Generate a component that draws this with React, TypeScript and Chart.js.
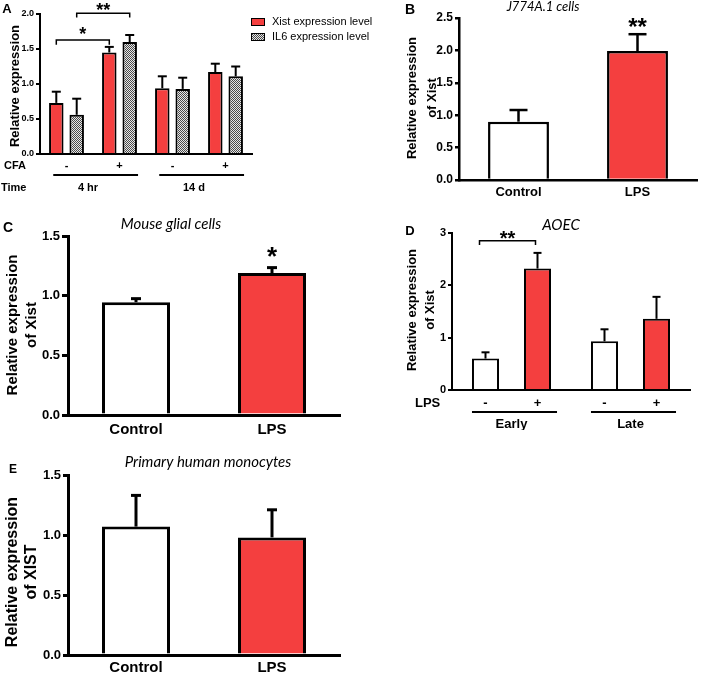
import React, { useEffect, useRef } from 'react';
import { Chart, registerables } from 'chart.js';
Chart.register(...registerables);

// ---------- DATA ----------
// Panel A
const aCFA = ['-', '+', '-', '+'];
const aTime = ['4 hr', '14 d'];
const aSeriesNames = ['Xist expression level', 'IL6 expression level'];
const aXist = [0.73, 1.45, 0.94, 1.17];
const aXistErr = [0.16, 0.08, 0.17, 0.12];
const aIL6 = [0.56, 1.6, 0.93, 1.11];
const aIL6Err = [0.23, 0.1, 0.16, 0.14];
// Panel B
const bCategories = ['Control', 'LPS'];
const bValues = [0.9, 1.99];
const bErr = [0.18, 0.26];
// Panel C
const cCategories = ['Control', 'LPS'];
const cValues = [0.945, 1.19];
const cErr = [0.03, 0.045];
// Panel D
const dGroups = ['Early', 'Late'];
const dLPS = ['-', '+'];
const dControl = [0.6, 0.93];
const dControlErr = [0.12, 0.23];
const dTreated = [2.32, 1.36];
const dTreatedErr = [0.3, 0.42];
// Panel E
const eCategories = ['Control', 'LPS'];
const eValues = [1.07, 0.98];
const eErr = [0.26, 0.23];

// ---------- STYLE ----------
const W = 708;
const H = 675;
const RED = '#F43F3F';
const FONT = 'Liberation Sans';
const TFONT = 'Lato';
Chart.defaults.font.family = FONT;

function makePattern(ctx: CanvasRenderingContext2D) {
  const c = document.createElement('canvas');
  c.width = 2;
  c.height = 2;
  const g = c.getContext('2d')!;
  g.fillStyle = '#e6e6e6';
  g.fillRect(0, 0, 2, 2);
  g.fillStyle = '#4a4a4a';
  g.fillRect(0, 0, 1, 1);
  g.fillRect(1, 1, 1, 1);
  return ctx.createPattern(c, 'repeat') as CanvasPattern;
}

function txt(ctx: CanvasRenderingContext2D, s: string, x: number, y: number, font: string, align: CanvasTextAlign = 'center') {
  ctx.save();
  ctx.fillStyle = '#000';
  ctx.font = font;
  ctx.textAlign = align;
  ctx.textBaseline = 'middle';
  ctx.fillText(s, x, y);
  ctx.restore();
}
function vtxt(ctx: CanvasRenderingContext2D, s: string, x: number, y: number, font: string) {
  ctx.save();
  ctx.translate(x, y);
  ctx.rotate(-Math.PI / 2);
  ctx.fillStyle = '#000';
  ctx.font = font;
  ctx.textAlign = 'center';
  ctx.textBaseline = 'middle';
  ctx.fillText(s, 0, 0);
  ctx.restore();
}
function star(ctx: CanvasRenderingContext2D, s: string, x: number, yCenter: number, size: number) {
  ctx.save();
  ctx.fillStyle = '#000';
  ctx.font = `bold ${size}px ${FONT}`;
  ctx.textAlign = 'center';
  ctx.textBaseline = 'alphabetic';
  ctx.fillText(s, x, yCenter + 0.6 * size);
  ctx.restore();
}
function line(ctx: CanvasRenderingContext2D, pts: number[][], lw: number) {
  ctx.save();
  ctx.strokeStyle = '#000';
  ctx.lineWidth = lw;
  ctx.beginPath();
  pts.forEach((p, i) => (i === 0 ? ctx.moveTo(p[0], p[1]) : ctx.lineTo(p[0], p[1])));
  ctx.stroke();
  ctx.restore();
}
function bracket(ctx: CanvasRenderingContext2D, x1: number, x2: number, y: number, legY: number, lw: number) {
  line(ctx, [[x1, legY], [x1, y], [x2, y], [x2, legY]], lw);
}

const errorBars = (cap: number, lw: number) => ({
  id: 'errorBars',
  afterDatasetsDraw(chart: any) {
    const ctx = chart.ctx as CanvasRenderingContext2D;
    const ys = chart.scales.y;
    chart.data.datasets.forEach((ds: any, i: number) => {
      const meta = chart.getDatasetMeta(i);
      meta.data.forEach((el: any, j: number) => {
        const v = ds.data[j];
        const e = ds.errors ? ds.errors[j] : 0;
        if (!e) return;
        const y0 = ys.getPixelForValue(v);
        const y1 = ys.getPixelForValue(v + e);
        line(ctx, [[el.x, y0], [el.x, y1]], lw);
        line(ctx, [[el.x - cap / 2, y1], [el.x + cap / 2, y1]], lw);
      });
    });
  },
});

interface Spec {
  area: { left: number; top: number; right: number; bottom: number };
  labels: string[];
  datasets: any[];
  yMax: number;
  yStep: number;
  yDecimals: number;
  yTickSize: number;
  xTickSize: number;
  xTickPad: number;
  showXTicks: boolean;
  axisWidth: number;
  tickLen: number;
  errCap: number;
  extras: (chart: any, ctx: CanvasRenderingContext2D) => void;
}

function buildConfig(p: Spec): any {
  const YW = 40;
  const XH = 40;
  return {
    type: 'bar',
    data: { labels: p.labels, datasets: p.datasets },
    options: {
      responsive: false,
      animation: false,
      events: [],
      layout: {
        autoPadding: false,
        padding: {
          left: p.area.left - YW,
          top: p.area.top,
          right: W - p.area.right,
          bottom: H - p.area.bottom - XH,
        },
      },
      plugins: { legend: { display: false }, tooltip: { enabled: false }, title: { display: false } },
      scales: {
        x: {
          type: 'category',
          offset: true,
          grid: { display: false, drawTicks: false },
          border: { display: true, color: '#000', width: p.axisWidth },
          ticks: {
            display: p.showXTicks,
            color: '#000',
            font: { family: FONT, weight: 'bold', size: p.xTickSize },
            padding: p.xTickPad,
            maxRotation: 0,
            autoSkip: false,
          },
          afterFit: (s: any) => {
            s.height = XH;
          },
        },
        y: {
          min: 0,
          max: p.yMax,
          grid: { display: true, drawOnChartArea: false, drawTicks: true, tickLength: p.tickLen, color: '#000', lineWidth: p.axisWidth },
          border: { display: true, color: '#000', width: p.axisWidth },
          ticks: {
            stepSize: p.yStep,
            color: '#000',
            padding: 2,
            font: { family: FONT, weight: 'bold', size: p.yTickSize },
            callback: (v: any) => Number(v).toFixed(p.yDecimals),
          },
          afterFit: (s: any) => {
            s.width = YW;
          },
        },
      },
    },
    plugins: [errorBars(p.errCap, p.axisWidth), { id: 'extras', afterDraw: (chart: any) => p.extras(chart, chart.ctx) }],
  };
}

// ---------- PANELS ----------
function specA(ctx: CanvasRenderingContext2D): Spec {
  const pat = makePattern(ctx);
  return {
    area: { left: 40, top: 14, right: 252, bottom: 154 },
    labels: aCFA,
    datasets: [
      { label: aSeriesNames[0], data: aXist, errors: aXistErr, backgroundColor: RED, borderColor: '#000', borderWidth: 2, borderSkipped: 'start', categoryPercentage: 0.77, barPercentage: 0.71 },
      { label: aSeriesNames[1], data: aIL6, errors: aIL6Err, backgroundColor: pat, borderColor: '#000', borderWidth: 2, borderSkipped: 'start', categoryPercentage: 0.77, barPercentage: 0.71 },
    ],
    yMax: 2,
    yStep: 0.5,
    yDecimals: 1,
    yTickSize: 9,
    xTickSize: 11,
    xTickPad: 5,
    showXTicks: true,
    axisWidth: 2,
    tickLen: 4,
    errCap: 9,
    extras: (chart, c) => {
      const xs = chart.scales.x;
      const ys = chart.scales.y;
      const cw = xs.getPixelForValue(1) - xs.getPixelForValue(0);
      txt(c, 'A', 7, 9, `bold 13px ${FONT}`);
      vtxt(c, 'Relative expression', 15, 86, `bold 13px ${FONT}`);
      txt(c, 'CFA', 4, 166, `bold 11px ${FONT}`, 'left');
      txt(c, 'Time', 1, 188, `bold 11px ${FONT}`, 'left');
      aTime.forEach((t, g) => {
        const x0 = xs.getPixelForValue(2 * g);
        const x1 = xs.getPixelForValue(2 * g + 1);
        line(c, [[x0 - 0.25 * cw, 175], [x1 + 0.35 * cw, 175]], 2);
        txt(c, t, (x0 + x1) / 2 - 5, 188, `bold 11px ${FONT}`);
      });
      const m0 = chart.getDatasetMeta(0).data;
      const m1 = chart.getDatasetMeta(1).data;
      bracket(c, m0[0].x, m0[1].x, ys.getPixelForValue(1.63), ys.getPixelForValue(1.56), 1.5);
      star(c, '*', (m0[0].x + m0[1].x) / 2, ys.getPixelForValue(1.78), 18);
      bracket(c, m1[0].x, m1[1].x, ys.getPixelForValue(2.01), ys.getPixelForValue(1.95), 1.5);
      star(c, '**', (m1[0].x + m1[1].x) / 2, ys.getPixelForValue(2.12), 18);
      // legend
      chart.data.datasets.forEach((ds: any, i: number) => {
        const y = 18 + i * 15;
        c.save();
        c.fillStyle = ds.backgroundColor;
        c.fillRect(251, y, 14, 8);
        c.strokeStyle = '#000';
        c.lineWidth = 1;
        c.strokeRect(251.5, y + 0.5, 13, 7);
        c.restore();
        txt(c, ds.label, 272, y + 4, `11px ${FONT}`, 'left');
      });
    },
  };
}

function specB(): Spec {
  return {
    area: { left: 459, top: 18, right: 697, bottom: 180 },
    labels: bCategories,
    datasets: [
      { data: bValues, errors: bErr, backgroundColor: ['#fff', RED], borderColor: '#000', borderWidth: 2.5, borderSkipped: 'start', categoryPercentage: 0.8, barPercentage: 0.64 },
    ],
    yMax: 2.5,
    yStep: 0.5,
    yDecimals: 1,
    yTickSize: 12,
    xTickSize: 13,
    xTickPad: 5,
    showXTicks: true,
    axisWidth: 2.5,
    tickLen: 4,
    errCap: 18,
    extras: (chart, c) => {
      const m = chart.getDatasetMeta(0).data;
      txt(c, 'B', 410, 10, `bold 14px ${FONT}`);
      txt(c, 'J774A.1 cells', 543, 7, `italic 13px ${TFONT}`);
      vtxt(c, 'Relative expression', 412, 98, `bold 13px ${FONT}`);
      vtxt(c, 'of Xist', 432, 98, `bold 13px ${FONT}`);
      star(c, '**', m[1].x, 21, 24);
    },
  };
}

function specC(): Spec {
  return {
    area: { left: 68, top: 236, right: 340, bottom: 415 },
    labels: cCategories,
    datasets: [
      { data: cValues, errors: cErr, backgroundColor: ['#fff', RED], borderColor: '#000', borderWidth: 3, borderSkipped: 'start', categoryPercentage: 0.8, barPercentage: 0.625 },
    ],
    yMax: 1.5,
    yStep: 0.5,
    yDecimals: 1,
    yTickSize: 13,
    xTickSize: 15,
    xTickPad: 6,
    showXTicks: true,
    axisWidth: 3,
    tickLen: 6,
    errCap: 10,
    extras: (chart, c) => {
      const m = chart.getDatasetMeta(0).data;
      txt(c, 'C', 8, 228, `bold 14px ${FONT}`);
      txt(c, 'Mouse glial cells', 171, 224, `italic 15px ${TFONT}`);
      vtxt(c, 'Relative expression', 13, 325, `bold 15px ${FONT}`);
      vtxt(c, 'of Xist', 32, 325, `bold 15px ${FONT}`);
      star(c, '*', m[1].x, 249, 26);
    },
  };
}

function specD(): Spec {
  return {
    area: { left: 452, top: 233, right: 690, bottom: 390 },
    labels: dGroups,
    datasets: [
      { label: dLPS[0], data: dControl, errors: dControlErr, backgroundColor: '#fff', borderColor: '#000', borderWidth: 2, borderSkipped: 'start', categoryPercentage: 0.874, barPercentage: 0.52 },
      { label: dLPS[1], data: dTreated, errors: dTreatedErr, backgroundColor: RED, borderColor: '#000', borderWidth: 2, borderSkipped: 'start', categoryPercentage: 0.874, barPercentage: 0.52 },
    ],
    yMax: 3,
    yStep: 1,
    yDecimals: 0,
    yTickSize: 11,
    xTickSize: 13,
    xTickPad: 27,
    showXTicks: true,
    axisWidth: 2,
    tickLen: 4,
    errCap: 8,
    extras: (chart, c) => {
      const ys = chart.scales.y;
      const m0 = chart.getDatasetMeta(0).data;
      const m1 = chart.getDatasetMeta(1).data;
      txt(c, 'D', 410, 231, `bold 13px ${FONT}`);
      txt(c, 'AOEC', 561, 225, `italic 15px ${TFONT}`);
      vtxt(c, 'Relative expression', 412, 310, `bold 13px ${FONT}`);
      vtxt(c, 'of Xist', 430, 310, `bold 13px ${FONT}`);
      txt(c, 'LPS', 415, 403, `bold 13px ${FONT}`, 'left');
      dGroups.forEach((_, j) => {
        txt(c, chart.data.datasets[0].label, m0[j].x, 403, `bold 13px ${FONT}`);
        txt(c, chart.data.datasets[1].label, m1[j].x, 403, `bold 13px ${FONT}`);
        const w = m0[j].width;
        line(c, [[m0[j].x - w / 2, 412], [m1[j].x + w / 2 + 6, 412]], 2);
      });
      bracket(c, m0[0].x - 6, m1[0].x - 2, ys.getPixelForValue(2.85), ys.getPixelForValue(2.77), 1.5);
      star(c, '**', (m0[0].x + m1[0].x) / 2 - 4, 233, 20);
    },
  };
}

function specE(): Spec {
  return {
    area: { left: 68, top: 475, right: 340, bottom: 655 },
    labels: eCategories,
    datasets: [
      { data: eValues, errors: eErr, backgroundColor: ['#fff', RED], borderColor: '#000', borderWidth: 3, borderSkipped: 'start', categoryPercentage: 0.8, barPercentage: 0.625 },
    ],
    yMax: 1.5,
    yStep: 0.5,
    yDecimals: 1,
    yTickSize: 13,
    xTickSize: 15,
    xTickPad: 4,
    showXTicks: true,
    axisWidth: 3,
    tickLen: 5,
    errCap: 10,
    extras: (chart, c) => {
      txt(c, 'E', 13, 470, `bold 12px ${FONT}`);
      txt(c, 'Primary human monocytes', 208, 462, `italic 15px ${TFONT}`);
      vtxt(c, 'Relative expression', 13, 572, `bold 16px ${FONT}`);
      vtxt(c, 'of XIST', 32, 572, `bold 16px ${FONT}`);
    },
  };
}

function Panel({ make }: { make: (ctx: CanvasRenderingContext2D) => Spec }) {
  const ref = useRef<HTMLCanvasElement>(null);
  useEffect(() => {
    const canvas = ref.current!;
    const ctx = canvas.getContext('2d')!;
    const chart = new Chart(canvas, buildConfig(make(ctx)));
    return () => chart.destroy();
  }, []);
  return <canvas ref={ref} width={W} height={H} style={{ position: 'absolute', left: 0, top: 0, width: W, height: H }} />;
}

export default function App() {
  return (
    <div style={{ position: 'absolute', left: 0, top: 0, width: W, height: H, background: '#fff', overflow: 'hidden' }}>
      <Panel make={specA} />
      <Panel make={specB} />
      <Panel make={specC} />
      <Panel make={specD} />
      <Panel make={specE} />
    </div>
  );
}
